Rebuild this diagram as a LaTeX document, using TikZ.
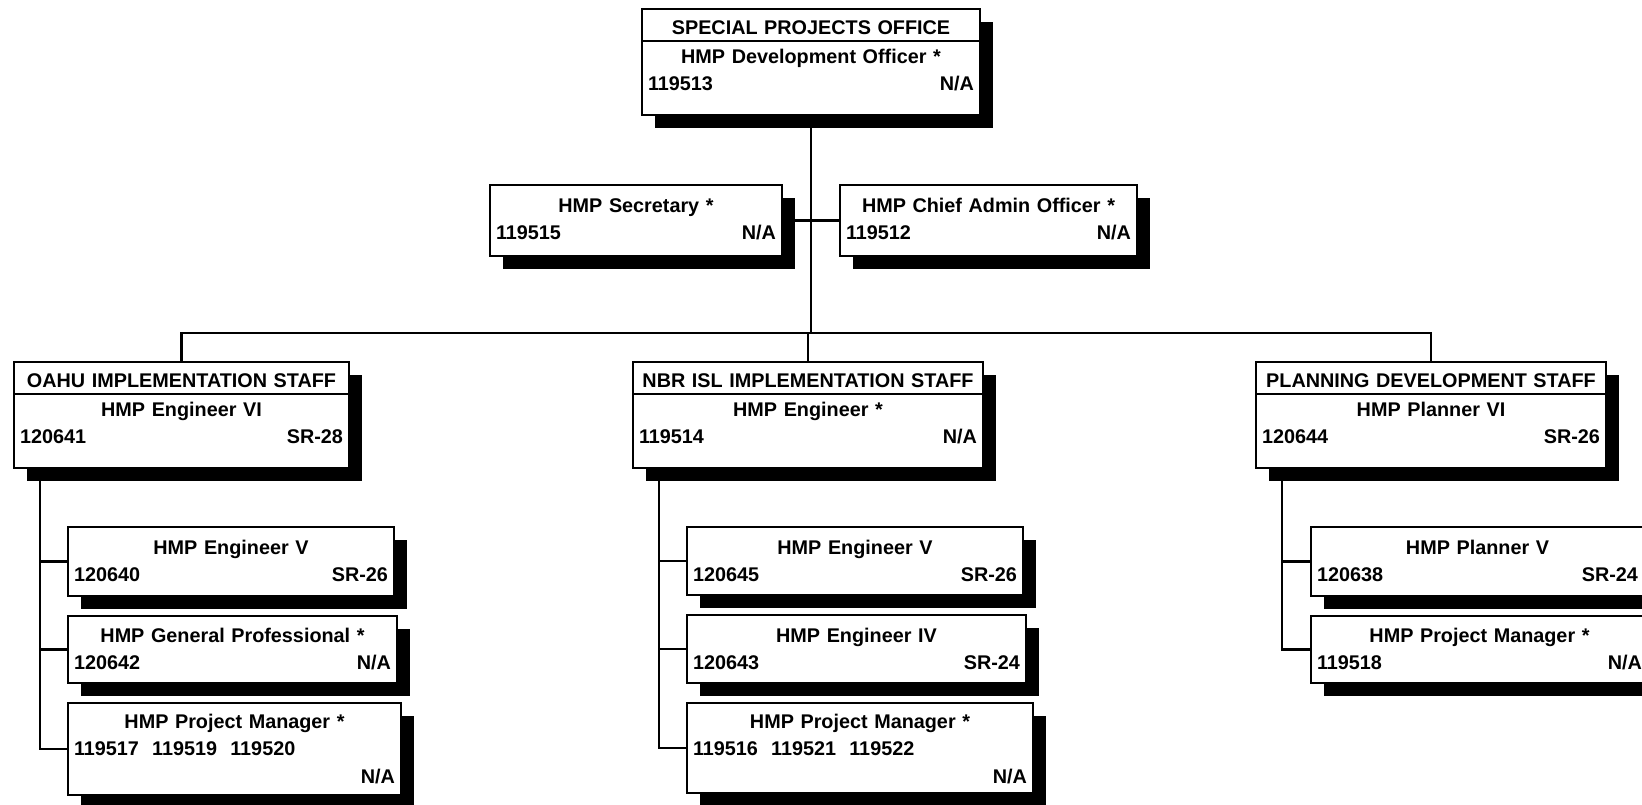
\documentclass[tikz,border=0pt]{standalone}
\usepackage{fontspec}
\setmainfont{Liberation Sans}
\usetikzlibrary{positioning,shadows}

\begin{document}
\begin{tikzpicture}[
    x=1pt, y=-1pt,
    font=\fontsize{19.8}{27.5}\selectfont\bfseries,
    post/.style={draw, line width=2.2pt, fill=white, align=center,
      inner xsep=6pt, inner ysep=0pt, outer sep=0pt, anchor=north west,
      text height=27pt,
      drop shadow={shadow xshift=13pt, shadow yshift=-13pt, fill=black, opacity=1}},
    unittitle/.style={post, text height=25pt, text depth=7pt},
    unithead/.style={post, text height=22pt, text depth=52pt},
    link/.style={line width=2.2pt}
  ]
  \useasboundingbox (0,0) rectangle (1642,804);
  \clip (0,0) rectangle (1642,804);

  % office
  \node[unittitle, text width=326pt] (spo) at (642,9) {SPECIAL PROJECTS OFFICE};
  \node[unithead, text width=326pt, below=0pt of spo] (spobody)
    {HMP Development Officer *\\119513\hfill N/A};
  \node[post, text width=280pt, text depth=44pt] (sec) at (490,185)
    {HMP Secretary *\\119515\hfill N/A};
  \node[post, text width=285pt, text depth=44pt] (cao) at (840,185)
    {HMP Chief Admin Officer *\\119512\hfill N/A};

  % staff heads
  \node[unittitle, text width=323pt] (oahu) at (14,362) {OAHU IMPLEMENTATION STAFF};
  \node[unithead, text width=323pt, below=0pt of oahu] (oahubody)
    {HMP Engineer VI\\120641\hfill SR-28};
  \node[unittitle, text width=338pt] (nbr) at (633,362) {NBR ISL IMPLEMENTATION STAFF};
  \node[unithead, text width=338pt, below=0pt of nbr] (nbrbody)
    {HMP Engineer *\\119514\hfill N/A};
  \node[unittitle, text width=338pt] (plan) at (1256,362) {PLANNING DEVELOPMENT STAFF};
  \node[unithead, text width=338pt, below=0pt of plan] (planbody)
    {HMP Planner VI\\120644\hfill SR-26};

  % oahu staff
  \node[post, text width=314pt, text depth=42pt,
    below right=59pt and 54pt of oahubody.south west] (oahu1)
    {HMP Engineer V\\120640\hfill SR-26};
  \node[post, text width=317pt, text height=26pt, text depth=41pt,
    below right=20pt and 0pt of oahu1.south west] (oahu2)
    {HMP General Professional *\\120642\hfill N/A};
  \node[post, text width=321pt, text height=25pt, text depth=67pt,
    below right=20pt and 0pt of oahu2.south west] (oahu3)
    {HMP Project Manager *\\119517~~119519~~119520\hfill\mbox{}\\\mbox{}\hfill N/A};

  % nbr isl staff
  \node[post, text width=324pt, text depth=41pt,
    below right=59pt and 54pt of nbrbody.south west] (nbr1)
    {HMP Engineer V\\120645\hfill SR-26};
  \node[post, text width=327pt, text depth=41pt,
    below right=20pt and 0pt of nbr1.south west] (nbr2)
    {HMP Engineer IV\\120643\hfill SR-24};
  \node[post, text width=334pt, text height=25pt, text depth=65pt,
    below right=20pt and 0pt of nbr2.south west] (nbr3)
    {HMP Project Manager *\\119516~~119521~~119522\hfill\mbox{}\\\mbox{}\hfill N/A};

  % planning staff
  \node[post, text width=321pt, text depth=42pt,
    below right=59pt and 55pt of planbody.south west] (plan1)
    {HMP Planner V\\120638\hfill SR-24};
  \node[post, text width=325pt, text height=26pt, text depth=41pt,
    below right=20pt and 0pt of plan1.south west] (plan2)
    {HMP Project Manager *\\119518\hfill N/A};

  % lines
  \coordinate (bus) at (811,333);
  \draw[link] (spobody.south) -- (spobody.south |- bus);
  \draw[link] (sec.east) -- (cao.west);
  \draw[link] (oahu.north) -- (oahu.north |- bus) -- (plan.north |- bus) -- (plan.north);
  \draw[link] (nbr.north) -- (nbr.north |- bus);

  \coordinate (oahutrunk) at ([xshift=26pt]oahubody.south west);
  \draw[link] (oahutrunk) |- (oahu3.west);
  \draw[link] (oahu1.west) -- (oahu1.west -| oahutrunk);
  \draw[link] (oahu2.west) -- (oahu2.west -| oahutrunk);

  \coordinate (nbrtrunk) at ([xshift=26pt]nbrbody.south west);
  \draw[link] (nbrtrunk) |- (nbr3.west);
  \draw[link] (nbr1.west) -- (nbr1.west -| nbrtrunk);
  \draw[link] (nbr2.west) -- (nbr2.west -| nbrtrunk);

  \coordinate (plantrunk) at ([xshift=26pt]planbody.south west);
  \draw[link] (plantrunk) |- (plan2.west);
  \draw[link] (plan1.west) -- (plan1.west -| plantrunk);
\end{tikzpicture}
\end{document}
